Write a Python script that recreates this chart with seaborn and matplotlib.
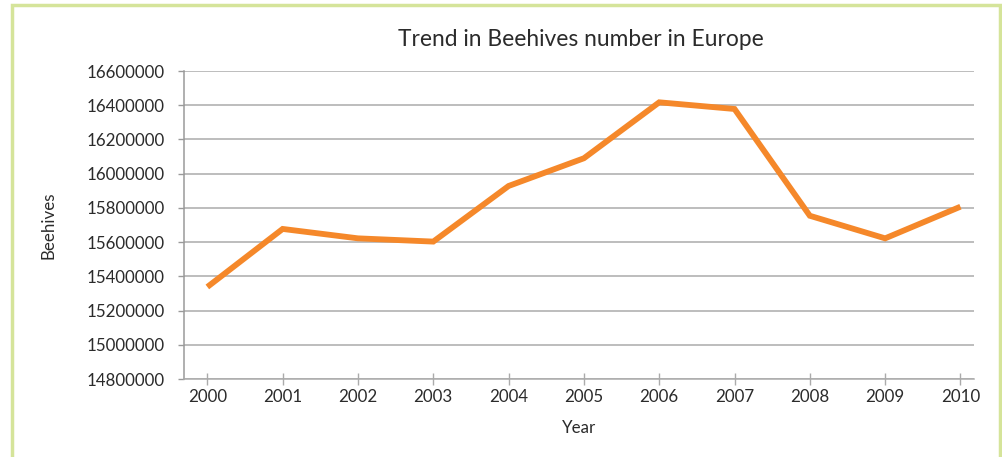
import matplotlib
matplotlib.use("Agg")
import matplotlib.pyplot as plt
import seaborn as sns
import pandas as pd
from matplotlib.patches import Rectangle

years = [2000, 2001, 2002, 2003, 2004, 2005, 2006, 2007, 2008, 2009, 2010]
beehives = [15338000, 15677000, 15622000, 15603000, 15928000, 16090000,
            16417000, 16378000, 15754000, 15622000, 15807000]
y_ticks = [14800000, 15000000, 15200000, 15400000, 15600000, 15800000,
           16000000, 16200000, 16400000, 16600000]

title = "Trend in Beehives number in Europe"
xlabel = "Year"
ylabel = "Beehives"

sns.set_theme(style="white")
plt.rcParams['font.family'] = ['Lato', 'DejaVu Sans']

df = pd.DataFrame({"Year": years, "Beehives": beehives})

fig = plt.figure(figsize=(10.02, 4.57), dpi=100)
fig.patch.set_facecolor("white")
ax = fig.add_axes([184/1002, 1 - 379/457, (974 - 184)/1002, (379 - 71)/457])

sns.lineplot(data=df, x="Year", y="Beehives", ax=ax, color="#F5882A",
             linewidth=4.2, solid_joinstyle="miter", solid_capstyle="butt")

ax.set_xlim(1999.69, 2010.18)
ax.set_ylim(y_ticks[0], y_ticks[-1])
ax.set_yticks(y_ticks)
ax.set_yticklabels([str(v) for v in y_ticks])
ax.set_xticks(years)
ax.set_xticklabels([str(y) for y in years])

ax.grid(axis="y", color="#ABABAB", linewidth=1.1)
ax.grid(axis="x", visible=False)
ax.set_axisbelow(True)
for s in ["top", "right"]:
    ax.spines[s].set_visible(False)
ax.spines["left"].set_color("#9A9A9A")
ax.spines["bottom"].set_color("#ABABAB")
ax.spines["left"].set_linewidth(1.1)
ax.spines["bottom"].set_linewidth(1.1)

ax.tick_params(axis="y", direction="out", length=4, width=1, color="#9A9A9A",
               labelsize=12.2, labelcolor="#2B2B2B", pad=10, left=True)
ax.tick_params(axis="x", direction="inout", length=8, width=1, color="#ABABAB",
               labelsize=12.2, labelcolor="#2B2B2B", pad=3, bottom=True)

ax.set_xlabel(xlabel, fontsize=12.2, color="#2B2B2B", labelpad=11)
ax.set_ylabel(ylabel, fontsize=12.2, color="#2B2B2B")
ax.yaxis.set_label_coords(-0.162, 0.5)
fig.text(581/1002, 1 - 40/457, title, ha="center", va="center",
         fontsize=16.4, color="#2B2B2B")

fig.patches.append(Rectangle((12/1002, -0.02), (1000 - 12)/1002, 1 - 5/457 + 0.02,
                             transform=fig.transFigure, fill=False,
                             edgecolor="#D5E49A", linewidth=2.5))

fig.savefig("out.png", dpi=100)
